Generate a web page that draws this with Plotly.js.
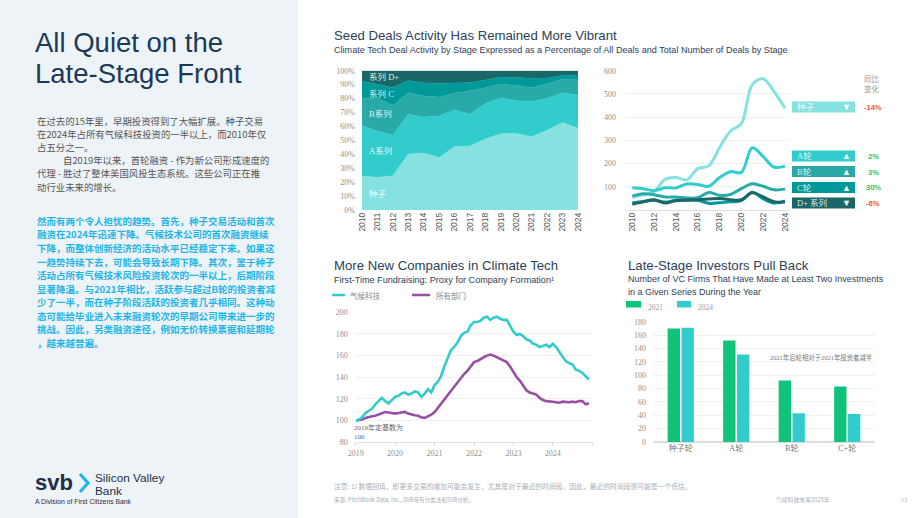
<!DOCTYPE html>
<html>
<head>
<meta charset="utf-8">
<script src="https://cdn.plot.ly/plotly-3.0.1.min.js"></script>
<style>
  html, body { margin: 0; padding: 0; background: #ffffff; }
  #chart { width: 920px; height: 518px; }
</style>
</head>
<body>
<div id="chart"></div>
<script>
// ---------- Stage mix: share of climate-tech deals (%) ----------
const stageYears    = [2010, 2011, 2012, 2013, 2014, 2015, 2016, 2017, 2018, 2019, 2020, 2021, 2022, 2023, 2024];
const seedShare     = [24.4, 23.4, 24.6, 40.2, 40.9, 37.6, 45.5, 45.9, 51.0, 54.8, 55.0, 52.6, 57.2, 62.9, 58.6];
const seriesAShare  = [36.1, 33.3, 29.0, 28.5, 25.8, 29.9, 26.5, 22.8, 25.6, 25.6, 23.5, 25.2, 22.9, 21.3, 23.7];
const seriesBShare  = [19.6, 23.7, 21.5, 15.5, 15.1, 13.6, 12.0, 16.9, 11.2, 10.0, 11.0, 10.0, 10.6,  9.8, 11.0];
const seriesCShare  = [12.5,  9.8, 12.9,  8.8,  9.6,  9.8,  7.1,  6.0,  5.5,  5.1,  5.7,  6.7,  4.0,  2.7,  3.6];
const seriesDShare  = [ 7.4,  9.8, 12.0,  7.0,  8.6,  9.1,  8.9,  8.4,  6.7,  4.5,  4.8,  5.5,  5.3,  3.3,  3.1];
const shareLabels   = ['种子', 'A系列', 'B系列', '系列 C', '系列 D+'];
const shareTicks    = [0, 10, 20, 30, 40, 50, 60, 70, 80, 90, 100];
const shareTickText = ['0%', '10%', '20%', '30%', '40%', '50%', '60%', '70%', '80%', '90%', '100%'];

// ---------- Number of deals by stage ----------
const seedDeals = [55, 65, 80, 132, 140, 130, 178, 190, 268, 340, 372, 540, 565, 510, 438];
const aDeals    = [96, 92, 83,  96,  95, 112, 110, 102, 140, 165, 162, 268, 230, 185, 189];
const bDeals    = [60, 70, 66,  56,  56,  52,  53,  75,  63,  67,  92, 113, 102,  87,  90];
const cDeals    = [31, 37, 42,  34,  42,  43,  42,  29,  31,  35,  40,  76,  48,  30,  39];
const dDeals    = [25, 35, 44,  30,  40,  42,  44,  47,  50,  44,  44,  74,  56,  36,  34];
const dealStageLabels = ['种子', 'A轮', 'B轮', 'C轮', 'D+ 系列'];
const yoyChange       = ['-14%', '2%', '3%', '30%', '-6%'];

// ---------- First-time fundraising index (2019 = 100), monthly 2019-2024 ----------
const climateIndex = [
  100, 101, 103, 107, 109, 111, 115, 118, 121, 118, 116, 119,
  122, 123, 125, 126, 124, 125, 127, 126, 122, 125, 129, 126,
  133, 136, 141, 150, 157, 165, 168, 172, 178, 181, 182, 188,
  191, 191, 192, 195, 196, 193, 195, 196, 194, 193, 193, 188,
  182, 179, 180, 178, 175, 174, 171, 170, 168, 169, 170, 168,
  171, 168, 163, 159, 155, 153, 152, 147, 146, 144, 141, 138
];
const allSectorIndex = [
  100, 100.5, 101, 102.5, 103.5, 104, 104.5, 105.5, 106.5, 108, 107.5, 107,
  106.5, 107, 107.5, 108, 106.5, 105.5, 105, 104.5, 103, 102.5, 104, 105.5,
  108, 112, 116, 119.5, 124, 127, 131.5, 135.5, 139, 143, 146, 150,
  154, 155, 157, 158.5, 160, 161, 160, 158.5, 157.5, 156, 154, 150,
  145, 140, 137, 132, 128, 126, 125, 124, 121, 119, 118, 118,
  117.5, 117, 116.5, 117.5, 117, 117, 117.5, 117, 118, 118, 115, 116
];
const indexSeriesNames = ['气候科技', '所有部门'];

// ---------- VC firms with 2+ investments in a series ----------
const roundCats  = ['种子轮', 'A轮', 'B轮', 'C+轮'];
const firms2021  = [170, 152, 92, 83];
const firms2024  = [171, 131, 43, 42];
const firmYears  = ['2021', '2024'];

// ---------- palette ----------
const C_SEED = '#86e1e1', C_A = '#33cccc', C_B = '#2aa9a9', C_C = '#00999a', C_D = '#1b6767';
const C_GREEN = '#0fc47a', C_PURPLE = '#9a4ea6';
const NAVY = '#2c4258';
const SERIF = 'Liberation Serif, Noto Sans CJK SC, serif';
const SANS = 'Liberation Sans, Arial, sans-serif';
const CJK = 'Noto Sans CJK SC, sans-serif';

// pixel -> paper helpers
const PX = x => x / 920;
const PY = y => 1 - y / 518;

// monthly dates for the fundraising index
const fundMonths = [];
for (let y = 2019; y <= 2024; y++) {
  for (let m = 1; m <= 12; m++) fundMonths.push(y + '-' + String(m).padStart(2, '0') + '-01');
}

const traces = [];

// stacked stage shares
[[seedShare, C_SEED], [seriesAShare, C_A], [seriesBShare, C_B], [seriesCShare, C_C], [seriesDShare, C_D]]
  .forEach(([vals, col], i) => {
    traces.push({
      type: 'scatter', x: stageYears, y: vals, name: shareLabels[i],
      stackgroup: 'share', mode: 'lines',
      line: { width: 0.5, color: col }, fillcolor: col,
      xaxis: 'x', yaxis: 'y', hoverinfo: 'skip'
    });
  });

// deal counts (lightest first so the darker lines sit on top)
[[seedDeals, C_SEED], [aDeals, C_A], [bDeals, C_B], [cDeals, C_C], [dDeals, C_D]]
  .forEach(([vals, col], i) => {
    traces.push({
      type: 'scatter', x: stageYears, y: vals, name: dealStageLabels[i],
      mode: 'lines', line: { width: 3, color: col, shape: 'spline', smoothing: 1 },
      xaxis: 'x2', yaxis: 'y2', hoverinfo: 'skip'
    });
  });

// fundraising index
traces.push({
  type: 'scatter', x: fundMonths, y: allSectorIndex, name: indexSeriesNames[1],
  mode: 'lines', line: { width: 2.6, color: C_PURPLE }, xaxis: 'x3', yaxis: 'y3', hoverinfo: 'skip'
});
traces.push({
  type: 'scatter', x: fundMonths, y: climateIndex, name: indexSeriesNames[0],
  mode: 'lines', line: { width: 2.6, color: C_A }, xaxis: 'x3', yaxis: 'y3', hoverinfo: 'skip'
});

// VC firm bars
traces.push({
  type: 'bar', x: roundCats, y: firms2021, name: firmYears[0],
  marker: { color: C_GREEN }, xaxis: 'x4', yaxis: 'y4', hoverinfo: 'skip'
});
traces.push({
  type: 'bar', x: roundCats, y: firms2024, name: firmYears[1],
  marker: { color: C_A }, xaxis: 'x4', yaxis: 'y4', hoverinfo: 'skip'
});

// ---------- text helpers ----------
function txt(x, y, text, size, color, family, extra) {
  return Object.assign({
    xref: 'paper', yref: 'paper', x: PX(x), y: PY(y), text: text,
    showarrow: false, xanchor: 'left', yanchor: 'middle',
    font: { size: size, color: color, family: family }
  }, extra || {});
}

const annotations = [];
const shapes = [];

// left panel
shapes.push({ type: 'rect', xref: 'paper', yref: 'paper', x0: 0, x1: PX(298), y0: 0, y1: 1,
  fillcolor: '#eef3f7', line: { width: 0 }, layer: 'below' });

annotations.push(txt(33, 42, 'All Quiet on the', 27.5, '#1c3a57', SANS));
annotations.push(txt(33, 73, 'Late-Stage Front', 27.5, '#1c3a57', SANS));

const introLines = [
  [35, '在过去的15年里，早期投资得到了大幅扩展。种子交易'],
  [35, '在2024年占所有气候科技投资的一半以上，而2010年仅'],
  [35, '占五分之一。'],
  [61, '自2019年以来，首轮融资 - 作为新公司形成速度的'],
  [35, '代理 - 胜过了整体美国风投生态系统。这些公司正在推'],
  [35, '动行业未来的增长。']
];
const introY = [120.5, 133.8, 147, 160, 173.3, 186.6];
introLines.forEach((l, i) => annotations.push(txt(l[0], introY[i], l[1], 9.4, '#555555', CJK)));

const alertLines = [
  '然而有两个令人担忧的趋势。首先，种子交易活动和首次',
  '融资在2024年迅速下降。气候技术公司的首次融资继续',
  '下降，而整体创新经济的活动水平已经稳定下来。如果这',
  '一趋势持续下去，可能会导致长期下降。其次，鉴于种子',
  '活动占所有气候技术风险投资轮次的一半以上，后期阶段',
  '显著降温。与2021年相比，活跃参与超过B轮的投资者减',
  '少了一半，而在种子阶段活跃的投资者几乎相同。这种动',
  '态可能给毕业进入未来融资轮次的早期公司带来进一步的',
  '挑战。因此，另类融资途径，例如无价转换票据和延期轮',
  '，越来越普遍。'
];
alertLines.forEach((l, i) => annotations.push(
  txt(35, 221 + i * 13.5, l, 9.5, '#22b5e8', CJK, { font: { size: 9.5, color: '#22b5e8', family: CJK, weight: 'bold' } })
));

// logo
annotations.push(txt(33, 482, 'svb', 22, '#1b2f4a', SANS, { font: { size: 22, color: '#1b2f4a', family: SANS, weight: 'bold' } }));
shapes.push({ type: 'path', xref: 'paper', yref: 'paper',
  path: `M ${PX(80)} ${PY(474)} L ${PX(88)} ${PY(483)} L ${PX(80)} ${PY(492)}`,
  line: { color: '#22b5e8', width: 3.2 } });
annotations.push(txt(93, 477.5, 'Silicon Valley', 11.8, '#1b2f4a', SANS));
annotations.push(txt(93, 490.5, 'Bank', 11.8, '#1b2f4a', SANS));
annotations.push(txt(33, 501.5, 'A Division of First Citizens Bank', 6.8, '#1b2f4a', SANS));

// chart headings
annotations.push(txt(332, 36, 'Seed Deals Activity Has Remained More Vibrant', 13.2, NAVY, SANS));
annotations.push(txt(332, 50, 'Climate Tech Deal Activity by Stage Expressed as a Percentage of All Deals and Total Number of Deals by Stage', 9.1, NAVY, SANS));
annotations.push(txt(332, 265, 'More New Companies in Climate Tech', 13.2, NAVY, SANS));
annotations.push(txt(332, 280, 'First-Time Fundraising: Proxy for Company Formation¹', 9.1, NAVY, SANS));
annotations.push(txt(626, 265, 'Late-Stage Investors Pull Back', 13.2, NAVY, SANS));
annotations.push(txt(626, 279, 'Number of VC Firms That Have Made at Least Two Investments', 9.0, NAVY, SANS));
annotations.push(txt(626, 292, 'in a Given Series During the Year', 9.0, NAVY, SANS));

// labels inside the stacked areas
const areaLabelY = [194, 150.5, 114.5, 94, 77.5];
shareLabels.forEach((t, i) => annotations.push(txt(367, areaLabelY[i], t, 8.5, 'rgba(255,255,255,0.88)', SERIF)));

// year-over-year boxes beside the deal-count lines
annotations.push(txt(862, 78, '同比', 7.5, '#9a9a9a', CJK));
annotations.push(txt(862, 88, '变化', 7.5, '#9a9a9a', CJK));
const boxTop = [101.5, 150.5, 166, 182, 197.5];
const boxCol = [C_SEED, C_A, C_B, C_C, C_D];
dealStageLabels.forEach((t, i) => {
  shapes.push({ type: 'rect', xref: 'paper', yref: 'paper', x0: PX(792), x1: PX(855),
    y0: PY(boxTop[i] + 11), y1: PY(boxTop[i]), fillcolor: boxCol[i], line: { width: 0 } });
  annotations.push(txt(795, boxTop[i] + 5.8, t, 8.5, 'rgba(255,255,255,0.85)', SERIF));
  const down = yoyChange[i].charAt(0) === '-';
  annotations.push(txt(846, boxTop[i] + 5.5, down ? '▼' : '▲', 9, '#ffffff', SANS, { xanchor: 'center' }));
  annotations.push(txt(873, boxTop[i] + 6, yoyChange[i], 7.5, down ? '#f2553f' : '#1fc46e', SANS,
    { xanchor: 'center', font: { size: 7.5, color: down ? '#f2553f' : '#1fc46e', family: SANS, weight: 'bold' } }));
});

// fundraising legend
shapes.push({ type: 'line', xref: 'paper', yref: 'paper', x0: PX(332), x1: PX(345), y0: PY(295), y1: PY(295), line: { color: C_A, width: 2.5 } });
annotations.push(txt(348, 295, indexSeriesNames[0], 7.5, '#888888', CJK));
shapes.push({ type: 'line', xref: 'paper', yref: 'paper', x0: PX(412), x1: PX(430), y0: PY(295), y1: PY(295), line: { color: C_PURPLE, width: 2.5 } });
annotations.push(txt(434, 295, indexSeriesNames[1], 7.5, '#888888', CJK));
annotations.push(txt(352, 427.5, '2019年定基数为', 7, '#666666', SERIF));
annotations.push(txt(352, 437, '100', 7, '#666666', SERIF));

// VC firm legend
shapes.push({ type: 'rect', xref: 'paper', yref: 'paper', x0: PX(626), x1: PX(641), y0: PY(307.5), y1: PY(301), fillcolor: C_GREEN, line: { width: 0 } });
annotations.push(txt(646, 307, firmYears[0], 7.5, '#999999', SERIF));
shapes.push({ type: 'rect', xref: 'paper', yref: 'paper', x0: PX(677), x1: PX(691), y0: PY(307.5), y1: PY(301), fillcolor: C_A, line: { width: 0 } });
annotations.push(txt(696, 307, firmYears[1], 7.5, '#999999', SERIF));
annotations.push(txt(768, 357, '2021年后轮相对于2021年投资者减半', 6.4, '#777777', SERIF));

// footer
annotations.push(txt(332, 486, '注意: 1) 数据回填，即更多交易的增加可能会发生，尤其是对于最近的时间段。因此，最近的时间段很可能是一个低估。', 6.8, '#a9b0b8', CJK));
annotations.push(txt(332, 500, '来源: PitchBook Data, Inc., SVB专有分类法和SVB分析。', 5.6, '#a9b0b8', CJK));
annotations.push(txt(774, 499, '气候科技未来2025年', 5.8, '#a9b0b8', CJK));
annotations.push(txt(899, 499, '12', 6.5, '#a9b0b8', SERIF));

const tickSerif = { family: SERIF, size: 8, color: '#8f8f8f' };
const tickYear  = { family: SANS, size: 8.5, color: '#555555' };

const layout = {
  width: 920, height: 518,
  margin: { l: 0, r: 0, t: 0, b: 0 },
  paper_bgcolor: '#ffffff', plot_bgcolor: 'rgba(0,0,0,0)',
  showlegend: false,
  barmode: 'group', bargap: 0.5, bargroupgap: 0.11,
  xaxis: {
    domain: [PX(362), PX(578)], range: [2010, 2024], anchor: 'y',
    tickvals: stageYears, tickangle: -90, tickfont: tickYear,
    showgrid: false, zeroline: false, showline: false, ticks: ''
  },
  yaxis: {
    domain: [PY(210), PY(70.7)], range: [0, 100], anchor: 'x',
    tickvals: shareTicks, ticktext: shareTickText,
    tickfont: tickSerif, showgrid: false, zeroline: false, ticks: '', ticklabelstandoff: 6
  },
  xaxis2: {
    domain: [PX(625), PX(790)], range: [2009.33, 2024.46], anchor: 'y2',
    tickvals: [2010, 2012, 2014, 2016, 2018, 2020, 2022, 2024], tickangle: -90, tickfont: tickYear,
    showgrid: false, zeroline: false, showline: false, ticks: ''
  },
  yaxis2: {
    domain: [PY(210), PY(70.7)], range: [0, 600], anchor: 'x2',
    tickvals: [100, 200, 300, 400, 500, 600], tickfont: tickSerif,
    showgrid: true, gridcolor: '#f0f0f0', zeroline: true, zerolinecolor: '#dddddd',
    ticks: '', ticklabelstandoff: 8
  },
  xaxis3: {
    type: 'date', domain: [PX(355.7), PX(592.3)], range: ['2019-01-01', '2025-01-01'], anchor: 'y3',
    tickvals: ['2019-01-01', '2020-01-01', '2021-01-01', '2022-01-01', '2023-01-01', '2024-01-01', '2025-01-01'],
    ticktext: ['2019', '2020', '2021', '2022', '2023', '2024', ''],
    tickfont: tickSerif, ticks: 'outside', ticklen: 3, tickcolor: '#dddddd',
    showline: true, linecolor: '#e2e2e2', showgrid: false, zeroline: false
  },
  yaxis3: {
    domain: [PY(442.3), PY(312.3)], range: [80, 200], anchor: 'x3',
    tickvals: [80, 100, 120, 140, 160, 180, 200], tickfont: tickSerif,
    showgrid: true, gridcolor: '#f0f0f0', zeroline: false, ticks: '', ticklabelstandoff: 7
  },
  xaxis4: {
    type: 'category', domain: [PX(653), PX(875)], range: [-0.5, 3.5], anchor: 'y4',
    tickfont: { family: SERIF, size: 8, color: '#777777' }, ticks: '',
    showgrid: false, zeroline: false, showline: false
  },
  yaxis4: {
    domain: [PY(442), PY(321.7)], range: [0, 180], anchor: 'x4',
    tickvals: [0, 20, 40, 60, 80, 100, 120, 140, 160, 180], tickfont: tickSerif,
    showgrid: true, gridcolor: '#f0f0f0', zeroline: true, zerolinecolor: '#dddddd', zerolinewidth: 1.5,
    ticks: '', ticklabelstandoff: 6
  },
  annotations: annotations,
  shapes: shapes
};

Plotly.newPlot('chart', traces, layout, { staticPlot: true, displayModeBar: false });
</script>
</body>
</html>
